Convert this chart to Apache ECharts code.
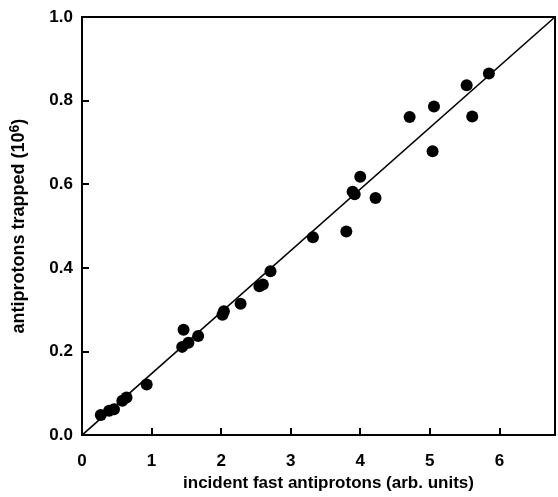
<!DOCTYPE html>
<html>
<head>
<meta charset="utf-8">
<script src="https://cdn.jsdelivr.net/npm/echarts@6/dist/echarts.min.js"></script>
<style>
html,body{margin:0;padding:0;background:#fff;}
#chart{width:558px;height:497px;}
</style>
</head>
<body>
<div id="chart"></div>
<script>
// incident fast antiprotons (arb. units)
var xValues = [0.27, 0.39, 0.46, 0.58, 0.64, 0.93, 1.44, 1.46, 1.53, 1.67, 2.02, 2.04, 2.28, 2.55, 2.60, 2.71, 3.32, 3.80, 3.89, 3.92, 4.00, 4.22, 4.71, 5.04, 5.06, 5.53, 5.61, 5.85];
// antiprotons trapped (10^6)
var yValues = [0.048, 0.058, 0.062, 0.082, 0.090, 0.121, 0.211, 0.252, 0.221, 0.237, 0.288, 0.296, 0.314, 0.356, 0.360, 0.392, 0.473, 0.487, 0.582, 0.576, 0.618, 0.567, 0.761, 0.679, 0.786, 0.837, 0.762, 0.865];
// fit line end points
var lineX = [0, 6.8];
var lineY = [0, 1.0];
var xTicks = [0, 1, 2, 3, 4, 5, 6];
var yTicks = [0.0, 0.2, 0.4, 0.6, 0.8, 1.0];

var points = xValues.map(function (x, i) { return [x, yValues[i]]; });
var fit = lineX.map(function (x, i) { return [x, lineY[i]]; });

var font = '"Liberation Sans", Arial, sans-serif';
var chart = echarts.init(document.getElementById('chart'));
chart.setOption({
  animation: false,
  grid: {left: 81, top: 17, right: -2, bottom: 60, show: true, borderColor: '#000', borderWidth: 2, backgroundColor: 'transparent'},
  xAxis: {
    type: 'value', min: 0, max: 6.8, interval: 1,
    splitLine: {show: false},
    axisLine: {lineStyle: {color: '#000', width: 2}},
    axisTick: {inside: true, length: 7, lineStyle: {color: '#000', width: 2}},
    axisLabel: {
      margin: 18, color: '#000', fontFamily: font, fontSize: 17, fontWeight: 'bold',
      formatter: function (v) { return xTicks.indexOf(v) >= 0 ? String(v) : ''; }
    },
    name: 'incident fast antiprotons (arb. units)',
    nameLocation: 'middle', nameGap: 38,
    nameTextStyle: {color: '#000', fontFamily: font, fontSize: 17, fontWeight: 'bold', padding: [0, 0, 0, 20]}
  },
  yAxis: {
    type: 'value', min: 0, max: 1, interval: 0.2,
    splitLine: {show: false},
    axisLine: {lineStyle: {color: '#000', width: 2}},
    axisTick: {inside: true, length: 7, lineStyle: {color: '#000', width: 2}},
    axisLabel: {
      margin: 9, color: '#000', fontFamily: font, fontSize: 17, fontWeight: 'bold',
      formatter: function (v) {
        for (var i = 0; i < yTicks.length; i++) { if (Math.abs(yTicks[i] - v) < 1e-9) return yTicks[i].toFixed(1); }
        return '';
      }
    },
    name: 'antiprotons trapped (10{sup|6})',
    nameLocation: 'middle', nameGap: 52, nameRotate: 90,
    nameTextStyle: {
      color: '#000', fontFamily: font, fontSize: 18, fontWeight: 'bold',
      rich: {sup: {color: '#000', fontFamily: font, fontSize: 14, fontWeight: 'bold', verticalAlign: 'top', padding: [0, 0, 8, 0]}}
    }
  },
  series: [
    {
      type: 'line', data: fit, showSymbol: false, symbol: 'none',
      lineStyle: {color: '#000', width: 1.6}, z: 2
    },
    {
      type: 'scatter', data: points, symbol: 'circle', symbolSize: 12,
      itemStyle: {color: '#000', opacity: 1}, z: 3
    }
  ]
});
</script>
</body>
</html>
